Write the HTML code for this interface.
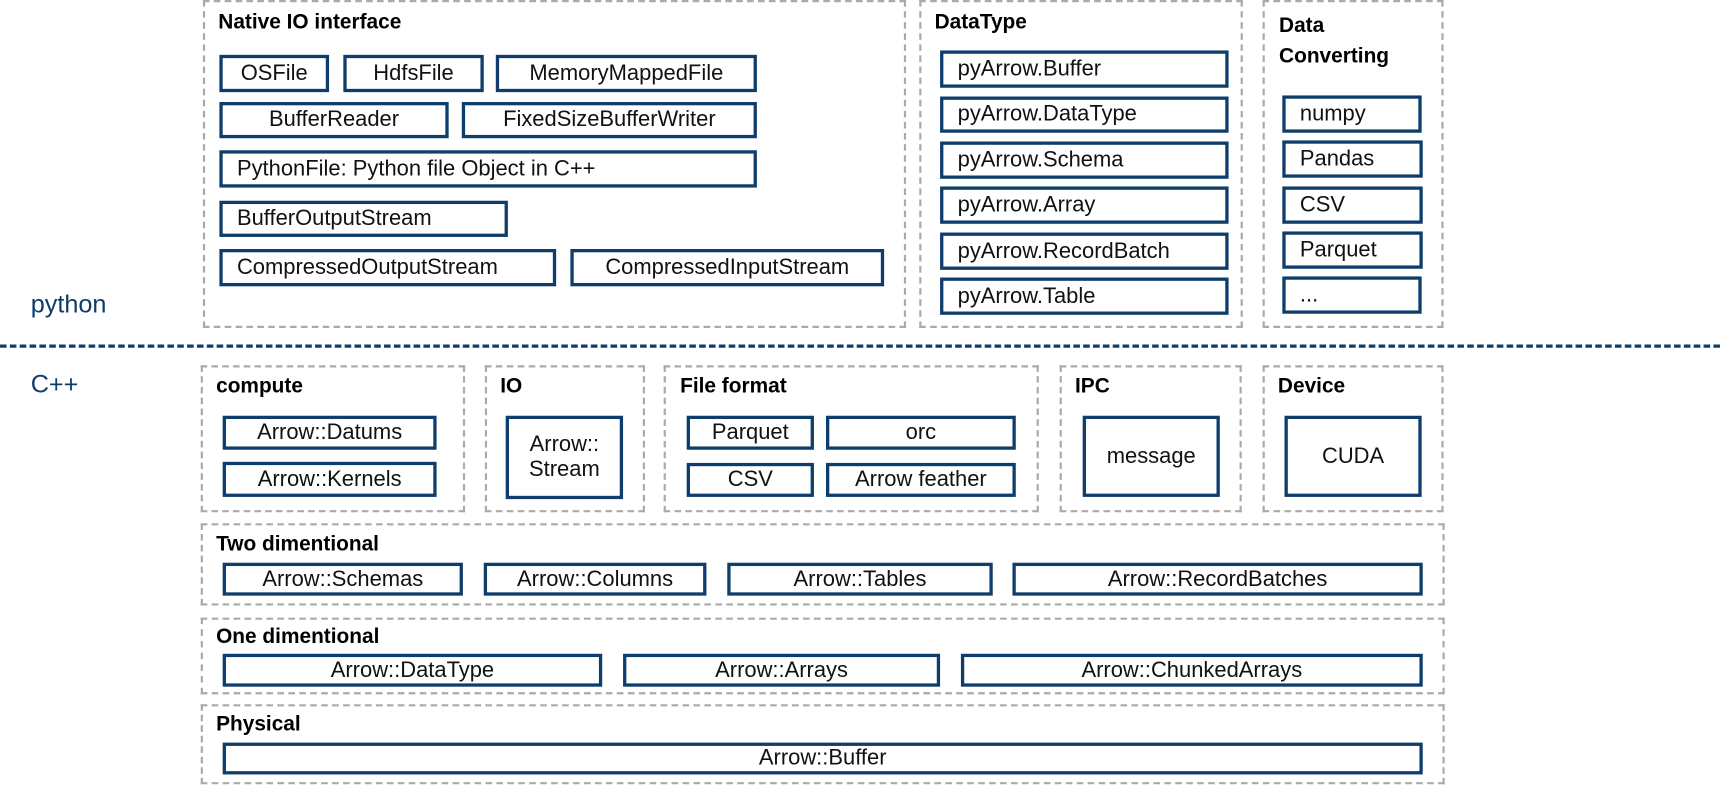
<!DOCTYPE html>
<html><head><meta charset="utf-8"><style>
html,body{margin:0;padding:0;background:#fff;width:1720px;height:789px;overflow:hidden}
#c{position:absolute;left:0;top:0;width:1568px;height:720px;transform:scale(1.09694);transform-origin:0 0;font-family:"Liberation Sans",sans-serif}
.g{position:absolute;border:2px dashed #aaa;box-sizing:border-box}
.t{position:absolute;font-weight:bold;font-size:19px;color:#000;line-height:22px}
.b{position:absolute;border:3px solid #0e3d6b;box-sizing:border-box;font-size:20px;color:#111;display:flex;align-items:center;justify-content:center;line-height:23px;text-align:center;white-space:nowrap}
.l{justify-content:flex-start;padding-left:13px}
.lab{position:absolute;color:#0e3d6b;font-size:23px}
</style></head><body><div id="c">
<div class="g" style="left:185px;top:0;width:641px;height:299px"></div>
<div class="t" style="left:199px;top:10px">Native IO interface</div>
<div class="b" style="left:200px;top:50px;width:100px;height:34px">OSFile</div>
<div class="b" style="left:313px;top:50px;width:128px;height:34px">HdfsFile</div>
<div class="b" style="left:452px;top:50px;width:238px;height:34px">MemoryMappedFile</div>
<div class="b" style="left:200px;top:93px;width:209px;height:33px">BufferReader</div>
<div class="b" style="left:421px;top:93px;width:269px;height:33px">FixedSizeBufferWriter</div>
<div class="b l" style="left:200px;top:137px;width:490px;height:34px">PythonFile: Python file Object in C++</div>
<div class="b l" style="left:200px;top:183px;width:263px;height:33px">BufferOutputStream</div>
<div class="b l" style="left:200px;top:227px;width:307px;height:34px">CompressedOutputStream</div>
<div class="b" style="left:520px;top:227px;width:286px;height:34px">CompressedInputStream</div>

<div class="g" style="left:838px;top:0;width:295px;height:299px"></div>
<div class="t" style="left:852px;top:10px">DataType</div>
<div class="b l" style="left:857px;top:46px;width:263px;height:34px">pyArrow.Buffer</div>
<div class="b l" style="left:857px;top:88px;width:263px;height:33px">pyArrow.DataType</div>
<div class="b l" style="left:857px;top:129px;width:263px;height:34px">pyArrow.Schema</div>
<div class="b l" style="left:857px;top:170px;width:263px;height:34px">pyArrow.Array</div>
<div class="b l" style="left:857px;top:212px;width:263px;height:34px">pyArrow.RecordBatch</div>
<div class="b l" style="left:857px;top:253px;width:263px;height:34px">pyArrow.Table</div>

<div class="g" style="left:1151px;top:0;width:165px;height:299px"></div>
<div class="t" style="left:1166px;top:10px;line-height:28px">Data<br>Converting</div>
<div class="b l" style="left:1169px;top:87px;width:127px;height:34px">numpy</div>
<div class="b l" style="left:1169px;top:128px;width:128px;height:34px">Pandas</div>
<div class="b l" style="left:1169px;top:170px;width:128px;height:34px">CSV</div>
<div class="b l" style="left:1169px;top:211px;width:128px;height:34px">Parquet</div>
<div class="b l" style="left:1169px;top:252px;width:127px;height:34px">...</div>

<div class="lab" style="left:28px;top:264px">python</div>
<div style="position:absolute;left:0;top:314px;width:1568px;height:0;border-top:3px dashed #0e3d6b"></div>
<div class="lab" style="left:28px;top:337px">C++</div>

<div class="g" style="left:183px;top:333px;width:241px;height:134px"></div>
<div class="t" style="left:197px;top:342px">compute</div>
<div class="b" style="left:203px;top:379px;width:195px;height:31px">Arrow::Datums</div>
<div class="b" style="left:203px;top:421px;width:195px;height:32px">Arrow::Kernels</div>

<div class="g" style="left:442px;top:333px;width:146px;height:134px"></div>
<div class="t" style="left:456px;top:342px">IO</div>
<div class="b" style="left:461px;top:379px;width:107px;height:76px;white-space:normal">Arrow::<br>Stream</div>

<div class="g" style="left:605px;top:333px;width:342px;height:134px"></div>
<div class="t" style="left:620px;top:342px">File format</div>
<div class="b" style="left:626px;top:379px;width:116px;height:31px">Parquet</div>
<div class="b" style="left:753px;top:379px;width:173px;height:31px">orc</div>
<div class="b" style="left:626px;top:422px;width:116px;height:31px">CSV</div>
<div class="b" style="left:753px;top:422px;width:173px;height:31px">Arrow feather</div>

<div class="g" style="left:966px;top:333px;width:166px;height:134px"></div>
<div class="t" style="left:980px;top:342px">IPC</div>
<div class="b" style="left:987px;top:379px;width:125px;height:74px">message</div>

<div class="g" style="left:1151px;top:333px;width:165px;height:134px"></div>
<div class="t" style="left:1165px;top:342px">Device</div>
<div class="b" style="left:1171px;top:379px;width:125px;height:74px">CUDA</div>

<div class="g" style="left:183px;top:477px;width:1134px;height:75px"></div>
<div class="t" style="left:197px;top:486px">Two dimentional</div>
<div class="b" style="left:203px;top:513px;width:219px;height:30px">Arrow::Schemas</div>
<div class="b" style="left:441px;top:513px;width:203px;height:30px">Arrow::Columns</div>
<div class="b" style="left:663px;top:513px;width:242px;height:30px">Arrow::Tables</div>
<div class="b" style="left:923px;top:513px;width:374px;height:30px">Arrow::RecordBatches</div>

<div class="g" style="left:183px;top:563px;width:1134px;height:70px"></div>
<div class="t" style="left:197px;top:570px">One dimentional</div>
<div class="b" style="left:203px;top:596px;width:346px;height:30px">Arrow::DataType</div>
<div class="b" style="left:568px;top:596px;width:289px;height:30px">Arrow::Arrays</div>
<div class="b" style="left:876px;top:596px;width:421px;height:30px">Arrow::ChunkedArrays</div>

<div class="g" style="left:183px;top:642px;width:1134px;height:73px"></div>
<div class="t" style="left:197px;top:650px">Physical</div>
<div class="b" style="left:203px;top:677px;width:1094px;height:29px">Arrow::Buffer</div>
</div></body></html>
